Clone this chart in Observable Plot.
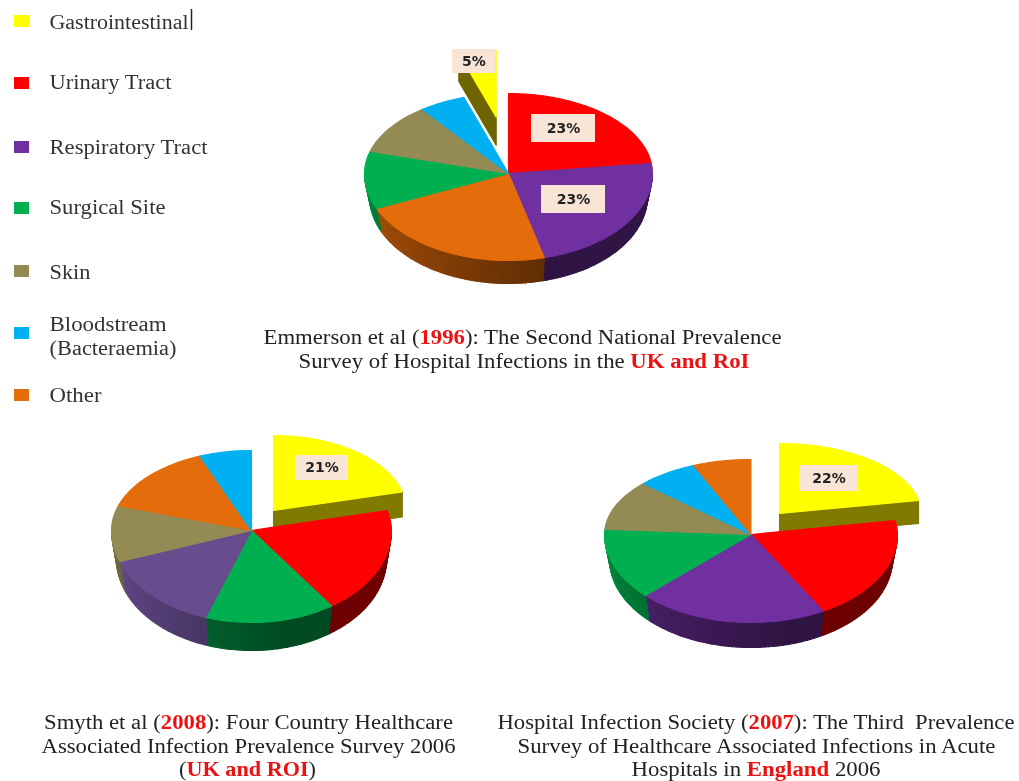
<!DOCTYPE html>
<html>
<head>
<meta charset="utf-8">
<script src="https://cdn.jsdelivr.net/npm/d3@7"></script>
<script src="https://cdn.jsdelivr.net/npm/@observablehq/plot@0.6"></script>
<style>
html,body{margin:0;padding:0;background:#fff}
#page{position:relative;width:1019px;height:781px;overflow:hidden}
#page svg{position:absolute;left:0;top:0;filter:blur(0.45px)}
</style>
</head>
<body>
<div id="page"></div>
<script>
// ---- data ----
const categories = ["Gastrointestinal","Urinary Tract","Respiratory Tract","Surgical Site","Skin","Bloodstream\n(Bacteraemia)","Other"];
const colours = ["#ffff00","#ff0000","#7030a0","#00b050","#948a54","#00b0f0","#e46c0a"];

const slices1996 = ["Urinary Tract","Respiratory Tract","Other","Surgical Site","Skin","Bloodstream\n(Bacteraemia)","Gastrointestinal"];
const values1996 = [23,23,22.4,11.1,10.3,5.2,5];
const slices2008 = ["Gastrointestinal","Urinary Tract","Surgical Site","Respiratory Tract","Skin","Other","Bloodstream\n(Bacteraemia)"];
const values2008 = [21,19.3,15,14.2,10.5,14,6];
const slices2007 = ["Gastrointestinal","Urinary Tract","Respiratory Tract","Surgical Site","Skin","Bloodstream\n(Bacteraemia)","Other"];
const values2007 = [22,19.8,21,13.3,10.8,6.7,6.4];

const valueLabels = ["5%","23%","23%","21%","22%"];

// caption lines: plain runs and (second item true) the bold red runs
const captionLines = [
  [["Emmerson et al ("],["1996",true],["): The Second National Prevalence"]],
  [["Survey of Hospital Infections in the "],["UK and RoI",true]],
  [["Smyth et al ("],["2008",true],["): Four Country Healthcare"]],
  [["Associated Infection Prevalence Survey 2006"]],
  [["("],["UK and ROI",true],[")"]],
  [["Hospital Infection Society ("],["2007",true],["): The Third  Prevalence"]],
  [["Survey of Healthcare Associated Infections in Acute"]],
  [["Hospitals in "],["England",true],[" 2006"]]
];

// ---- layout ----
const pieLayouts = [
  {names:slices1996, vals:values1996, cx:508, cy:173, rx:144, ryT:80, ryB:87, depth:23,
   out:{cx:495.7, cy:116.7, rx:121, ryT:67, ryB:67, depth:28, fill:"#6e6400"}},
  {names:slices2008, vals:values2008, cx:251, cy:530, rx:140, ryT:80, ryB:92, depth:28,
   out:{cx:273, cy:510, rx:133, ryT:75, ryB:75, depth:25, fill:"#807a00"},
   tint:{"Respiratory Tract":"#674c8e"}},
  {names:slices2007, vals:values2007, cx:750.5, cy:534, rx:146.5, ryT:75, ryB:88, depth:25,
   out:{cx:779, cy:513, rx:141.6, ryT:70, ryB:70, depth:23, fill:"#807a00"}}
];
const labelBoxes = [[452,495,49,73],[531,595,114,142],[541,605,185,213],[295,348,455,480],[799,858,465,491]];
const legendY = [21,83,147,208,271,333,395];
// legend text rows: text, centre line, drawn width
const legendText = [
  ["Gastrointestinal",22,139],["Urinary Tract",82,122],["Respiratory Tract",147,158],
  ["Surgical Site",207,116],["Skin",272,41],["Bloodstream",324,117],["(Bacteraemia)",348,127],["Other",395,52]
];
const captionPlace = [[522,337,518],[523.5,361,451],[248,722,409],[248,746,414],[247,769,137],[755.5,722,517],[756,746,478],[755.5,769,249]];

const colourOf = new Map(categories.map((c,i)=>[c,colours[i]]));
const shade = d3.scaleLinear().domain([90,165,250,280]).range([.45,.42,.72,.8]).clamp(true);
const scaled = (c,s)=>{const k=d3.rgb(c);return d3.rgb(k.r*s,k.g*s,k.b*s).formatHex();};
const rim = (g,a)=>[g.cx+g.rx*Math.sin(a), g.cy-(Math.cos(a)>0?g.ryT:g.ryB)*Math.cos(a)];
const rimLow = (g,a)=>{const t=rim(g,a);return [g.cx+(t[0]-g.cx)*0.965,t[1]+g.depth];};

let rows=[], uid=0;
const poly=(pts,fill)=>{const id=uid++;for(const [x,y] of pts)rows.push({id,x,y,fill});};
const sweep=(a0,a1)=>{const n=Math.max(2,Math.ceil((a1-a0)/(Math.PI/120)));return d3.range(n+1).map(i=>a0+(a1-a0)*i/n);};

for(const p of pieLayouts){
  const arcs=d3.pie().sort(null).value(v=>v)(p.vals);
  const gi=p.names.indexOf("Gastrointestinal");
  {
    const a=arcs[gi], g=p.out;
    const as=sweep(a.startAngle,a.endAngle);
    const wallA = a.startAngle>Math.PI ? a.startAngle : a.endAngle;
    const t=rim(g,wallA);
    poly([[g.cx,g.cy],t,[t[0],t[1]+g.depth],[g.cx,g.cy+g.depth]],g.fill);
    poly([[g.cx,g.cy],...as.map(x=>rim(g,x))],colourOf.get(p.names[gi]));
  }
  arcs.forEach((a,i)=>{
    if(i===gi)return;
    const lo=Math.max(a.startAngle,Math.PI/2), hi=Math.min(a.endAngle,Math.PI*1.5);
    if(hi<=lo)return;
    const tinted=p.tint&&p.tint[p.names[i]];
    const base=tinted||colourOf.get(p.names[i]);
    const as=sweep(lo,hi);
    for(let k=0;k<as.length-1;k++){
      poly([rim(p,as[k]),rim(p,as[k+1]),rimLow(p,as[k+1]),rimLow(p,as[k])],
        scaled(base,Math.min(1,shade((as[k]+as[k+1])/2*180/Math.PI)*(tinted?1.3:1))));
    }
  });
  arcs.forEach((a,i)=>{
    if(i===gi)return;
    const base=(p.tint&&p.tint[p.names[i]])||colourOf.get(p.names[i]);
    poly([[p.cx,p.cy],...sweep(a.startAngle,a.endAngle).map(x=>rim(p,x))],base);
  });
}

const swatchRows=categories.map((name,i)=>({fill:colours[i],y:legendY[i]}));
const labelRows=valueLabels.map((t,i)=>({t,x1:labelBoxes[i][0],x2:labelBoxes[i][1],y1:labelBoxes[i][2],y2:labelBoxes[i][3]}));
const captionRows=captionLines.map((runs,i)=>({t:runs.map(r=>r[0]).join(""),runs,x:captionPlace[i][0],y:captionPlace[i][1],w:captionPlace[i][2]}));
const legendRows=legendText.map(([t,y,w])=>({t,y,w}));

const chart=Plot.plot({
  width:1019,height:781,margin:0,
  x:{domain:[0,1019],range:[0,1019],axis:null},
  y:{domain:[0,781],range:[0,781],axis:null},
  color:{type:"identity"},
  style:{background:"transparent"},
  marks:[
    Plot.line(rows,{x:"x",y:"y",z:"id",fill:"fill",stroke:"fill",strokeWidth:1.1,curve:"linear-closed"}),
    Plot.rect(labelRows,{x1:"x1",x2:"x2",y1:"y1",y2:"y2",fill:"#f9e5d6"}),
    Plot.text(labelRows,{x:d=>(d.x1+d.x2)/2,y:d=>(d.y1+d.y2)/2,text:"t",fontFamily:"DejaVu Sans",fontWeight:"bold",fontSize:14,fill:"#222"}),
    Plot.rect(swatchRows,{x1:()=>14,x2:()=>29,y1:d=>d.y-6,y2:d=>d.y+6,fill:"fill"}),
    Plot.text(legendRows,{x:()=>49,y:"y",text:"t",textAnchor:"start",fontFamily:"Liberation Serif",fontSize:20.5,fill:"#333"}),
    Plot.text(captionRows,{x:"x",y:"y",text:"t",fontFamily:"Liberation Serif",fontSize:20.5,fill:"#222"}),
    Plot.ruleX([191],{y1:9,y2:30,stroke:"#222",strokeWidth:1.5})
  ]
});
// horizontal fit of each line, and bold red runs inside caption lines
const captionByText=new Map(captionRows.map(d=>[d.t,d]));
const legendByText=new Map(legendRows.map(d=>[d.t,d]));
chart.querySelectorAll("text").forEach(el=>{
  const key=el.textContent, cap=captionByText.get(key), leg=legendByText.get(key);
  const row=cap||leg; if(!row)return;
  el.setAttribute("textLength",row.w);
  el.setAttribute("lengthAdjust","spacingAndGlyphs");
  el.style.whiteSpace="pre";
  if(cap){
    el.textContent="";
    for(const [s,bold] of cap.runs){
      const ts=document.createElementNS("http://www.w3.org/2000/svg","tspan");
      ts.textContent=s;
      if(bold){ts.setAttribute("font-weight","bold");ts.setAttribute("fill","#ee1111");}
      el.appendChild(ts);
    }
  }
});
document.getElementById("page").appendChild(chart);
</script>
</body>
</html>
